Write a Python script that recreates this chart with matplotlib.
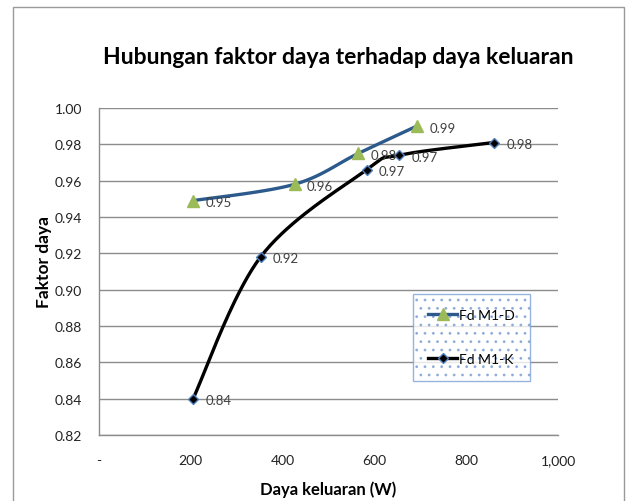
import numpy as np
import matplotlib
matplotlib.use("Agg")
import matplotlib.pyplot as plt
from matplotlib.patches import Rectangle

plt.rcParams['font.family'] = ['Lato', 'DejaVu Sans']
plt.rcParams['hatch.color'] = "#A9C1E0"
plt.rcParams['hatch.linewidth'] = 0.8

# data
daya_d = [205, 426, 565, 692]
fd_d = [0.949, 0.958, 0.975, 0.990]
label_d = ["0.95", "0.96", "0.98", "0.99"]

daya_k = [205, 352, 583, 653, 860]
fd_k = [0.840, 0.918, 0.966, 0.974, 0.981]
label_k = ["0.84", "0.92", "0.97", "0.97", "0.98"]

x_ticks = [0, 200, 400, 600, 800, 1000]
x_ticklabels = ["-", "200", "400", "600", "800", "1,000"]
y_ticks = np.arange(0.82, 1.0001, 0.02)

# plot area in pixels (left, top, right, bottom)
L, T, R, B = 99, 109, 558, 436


def smooth(xs, ys, sx, sy, n=40):
    # Excel-like smoothed line: cubic bezier with control points from neighbours
    p = np.column_stack([np.asarray(xs) * sx, np.asarray(ys) * sy])
    out = [p[0]]
    for i in range(len(p) - 1):
        p0 = p[i - 1] if i > 0 else p[i]
        p1, p2 = p[i], p[i + 1]
        p3 = p[i + 2] if i + 2 < len(p) else p[i + 1]
        c1 = p1 + (p2 - p0) / 6.0
        c2 = p2 - (p3 - p1) / 6.0
        t = np.linspace(0, 1, n)[1:, None]
        seg = ((1 - t) ** 3) * p1 + 3 * ((1 - t) ** 2) * t * c1 + 3 * (1 - t) * t ** 2 * c2 + t ** 3 * p2
        out.extend(seg)
    out = np.array(out)
    return out[:, 0] / sx, out[:, 1] / sy


fig = plt.figure(figsize=(6.27, 5.02), dpi=100)
ax = fig.add_axes([L / 627, 1 - B / 502, (R - L) / 627, (B - T) / 502])

# pixel scale factors so the smoothing happens in screen space
sx = (R - L) / 1000.0
sy = (B - T) / 0.18

xs, ys = smooth(daya_d, fd_d, sx, sy)
ax.plot(xs, ys, color="#2C5A8C", lw=2.4, zorder=3, solid_capstyle="round")
ax.plot(daya_d, fd_d, ls="none", marker="^", ms=8, color="#9BBB59", zorder=4)

xs, ys = smooth(daya_k, fd_k, sx, sy)
ax.plot(xs, ys, color="black", lw=2.4, zorder=3, solid_capstyle="round")
ax.plot(daya_k, fd_k, ls="none", marker="D", ms=5.5, mfc="black", mec="#4F81BD", mew=1.0, zorder=4)

for x, y, t in zip(daya_d, fd_d, label_d):
    ax.annotate(t, (x, y), xytext=(9, -1), textcoords="offset points", va="center", ha="left",
                fontsize=9.5, color="#404040", zorder=5)
for x, y, t in zip(daya_k, fd_k, label_k):
    ax.annotate(t, (x, y), xytext=(9, -1), textcoords="offset points", va="center", ha="left",
                fontsize=9.5, color="#404040", zorder=5)

ax.set_xlim(0, 1000)
ax.set_ylim(0.82, 1.0)
ax.set_xticks(x_ticks)
ax.set_xticklabels(x_ticklabels)
ax.set_yticks(y_ticks)
ax.set_yticklabels([f"{v:.2f}" for v in y_ticks])
ax.tick_params(length=0, labelsize=10, colors="#222222")
ax.tick_params(axis="y", pad=12)
ax.tick_params(axis="x", pad=14)
ax.grid(axis="y", color="#8C8C8C", lw=1.0)
ax.set_axisbelow(True)
for s in ["top", "right"]:
    ax.spines[s].set_visible(False)
for s in ["left", "bottom"]:
    ax.spines[s].set_color("#8C8C8C")
    ax.spines[s].set_linewidth(1.0)

fig.text((L + R) / 2 / 627, 1 - 490 / 502, "Daya keluaran (W)", ha="center", va="center",
         fontsize=12, fontweight="bold")
fig.text(44 / 627, 1 - 262 / 502, "Faktor daya", ha="center", va="center", rotation=90,
         fontsize=12.5, fontweight="bold")
fig.text(338 / 627, 1 - 58 / 502, "Hubungan faktor daya terhadap daya keluaran",
         ha="center", va="center", fontsize=16.5, fontweight="bold")

handles = [
    plt.Line2D([], [], color="#2C5A8C", lw=2.4, marker="^", ms=8, mfc="#9BBB59", mec="#9BBB59"),
    plt.Line2D([], [], color="black", lw=2.4, marker="D", ms=5, mfc="black", mec="#4F81BD"),
]
leg = ax.legend(handles, ["Fd M1-D", "Fd M1-K"], loc="upper left",
                bbox_to_anchor=((413 - L) / (R - L), (B - 295) / (B - T)),
                frameon=True, fontsize=10, labelspacing=2.3, borderpad=1.1, handlelength=2.1,
                handletextpad=0.1, fancybox=False, borderaxespad=0)
fr = leg.get_frame()
fr.set_facecolor("white")
fr.set_edgecolor("#7FA2D4")
fr.set_hatch("..")
if hasattr(fr, "set_hatchcolor"):
    fr.set_hatchcolor("#A9C1E0")
fr.set_linewidth(1.0)

fig.add_artist(Rectangle((13 / 627, -0.05), (624 - 13) / 627, 1 - 8 / 502 + 0.05,
                         transform=fig.transFigure, fill=False, edgecolor="#9A9A9A", lw=1.0))

fig.savefig("out.png", dpi=100)
